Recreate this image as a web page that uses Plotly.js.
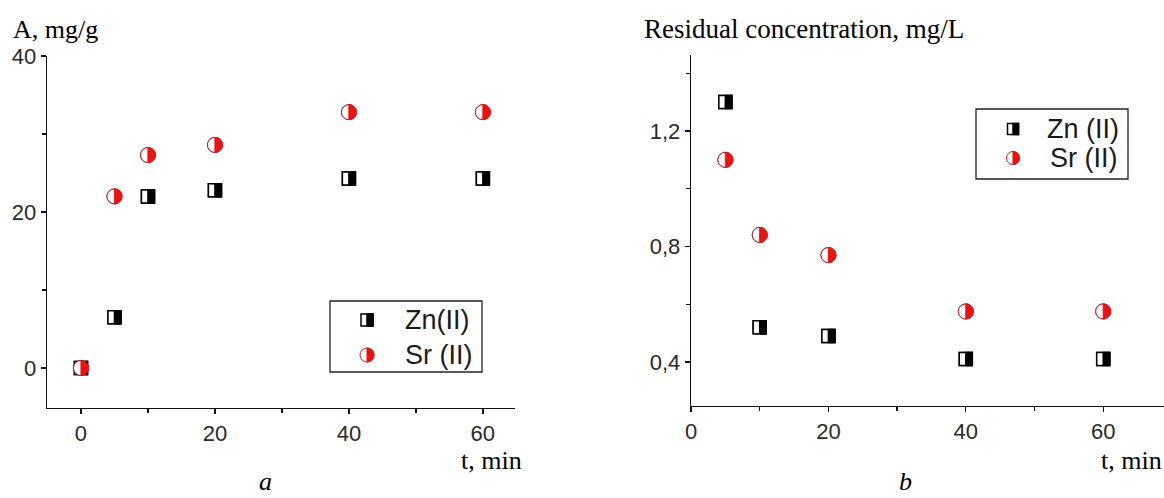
<!DOCTYPE html>
<html><head><meta charset="utf-8">
<script src="https://cdn.plot.ly/plotly-3.0.1.min.js"></script>
<style>html,body{margin:0;padding:0;background:#fff;}#chart{width:1164px;height:498px;}</style>
</head><body><div id="chart"></div>
<script>
// ---- data ----
const timeA = [0, 5, 10, 20, 40, 60];
const znA = [0, 6.5, 22.0, 22.8, 24.3, 24.3];
const srA = [0, 22.0, 27.3, 28.6, 32.8, 32.8];
const timeB = [5, 10, 20, 40, 60];
const znB = [1.30, 0.52, 0.49, 0.41, 0.41];
const srB = [1.10, 0.84, 0.77, 0.575, 0.575];
const seriesNames = ['Zn(II)', 'Sr (II)'];
const seriesNamesB = ['Zn (II)', 'Sr (II)'];

const W = 1164, H = 498;
const fx = x => x / W, fy = y => 1 - y / H;
const RED = '#ee1111', REDLINE = '#b02020';
const tickFont = {family: 'Liberation Sans, Arial, sans-serif', size: 22, color: '#2a2a2a'};
const serif = {family: 'Liberation Serif, Times New Roman, serif', size: 26, color: '#000'};

function axisBase(extra) {
  return Object.assign({
    showline: true, linecolor: '#111', linewidth: 1.3, mirror: false,
    ticks: 'outside', ticklen: 5, tickwidth: 1.3, tickcolor: '#111',
    showgrid: false, zeroline: false, tickfont: tickFont, fixedrange: true
  }, extra);
}

const traces = [
  {x: timeA, y: znA, xaxis: 'x', yaxis: 'y', mode: 'markers', name: seriesNames[0], showlegend: false,
   marker: {symbol: 'square', size: 13, color: '#fff', line: {color: '#000', width: 1.5}}},
  {x: timeA, y: srA, xaxis: 'x', yaxis: 'y', mode: 'markers', name: seriesNames[1], showlegend: false,
   marker: {symbol: 'circle', size: 15, color: '#fff', line: {color: REDLINE, width: 1}}},
  {x: timeB, y: znB, xaxis: 'x2', yaxis: 'y2', mode: 'markers', name: seriesNamesB[0], showlegend: false,
   marker: {symbol: 'square', size: 13, color: '#fff', line: {color: '#000', width: 1.5}}},
  {x: timeB, y: srB, xaxis: 'x2', yaxis: 'y2', mode: 'markers', name: seriesNamesB[1], showlegend: false,
   marker: {symbol: 'circle', size: 15, color: '#fff', line: {color: REDLINE, width: 1}}}
];

// half-filled marker shapes anchored on data values (pixel-sized)
function sqShapes(xref, yref, xa, ya, s) {
  const h = s / 2;
  return [
    {type: 'rect', xref, yref, xsizemode: 'pixel', ysizemode: 'pixel', xanchor: xa, yanchor: ya,
     x0: -h, x1: h, y0: -h, y1: h, fillcolor: '#fff', line: {color: '#000', width: 1.5}, layer: 'above'},
    {type: 'rect', xref, yref, xsizemode: 'pixel', ysizemode: 'pixel', xanchor: xa, yanchor: ya,
     x0: 0, x1: h, y0: -h, y1: h, fillcolor: '#000', line: {color: '#000', width: 1.5}, layer: 'above'}
  ];
}
function halfDiskPath(r) {
  let p = '';
  for (let k = 0; k <= 16; k++) {
    const a = -Math.PI / 2 + Math.PI * k / 16;
    p += (k === 0 ? 'M' : 'L') + (r * Math.cos(a)).toFixed(2) + ',' + (r * Math.sin(a)).toFixed(2) + ' ';
  }
  return p + 'Z';
}
function ciShapes(xref, yref, xa, ya, d) {
  const r = d / 2;
  return [
    {type: 'circle', xref, yref, xsizemode: 'pixel', ysizemode: 'pixel', xanchor: xa, yanchor: ya,
     x0: -r, x1: r, y0: -r, y1: r, fillcolor: '#fff', line: {color: REDLINE, width: 1}, layer: 'above'},
    {type: 'path', xref, yref, xsizemode: 'pixel', ysizemode: 'pixel', xanchor: xa, yanchor: ya,
     path: halfDiskPath(r), fillcolor: RED, line: {color: RED, width: 1}, layer: 'above'}
  ];
}

let shapes = [];
timeA.forEach((t, i) => { shapes = shapes.concat(sqShapes('x', 'y', t, znA[i], 13)); });
timeA.forEach((t, i) => { shapes = shapes.concat(ciShapes('x', 'y', t, srA[i], 15)); });
timeB.forEach((t, i) => { shapes = shapes.concat(sqShapes('x2', 'y2', t, znB[i], 13)); });
timeB.forEach((t, i) => { shapes = shapes.concat(ciShapes('x2', 'y2', t, srB[i], 15)); });

// legend boxes (paper coords)
function legendBox(x0, y0, x1, y1) {
  return {type: 'rect', xref: 'paper', yref: 'paper', x0: fx(x0), x1: fx(x1), y0: fy(y1), y1: fy(y0),
          fillcolor: 'rgba(0,0,0,0)', line: {color: '#222', width: 1.3}, layer: 'above'};
}
shapes.push(legendBox(330, 301, 482, 372));
shapes.push(legendBox(976, 109, 1128, 179));
shapes = shapes.concat(sqShapes('paper', 'paper', fx(367), fy(320), 12));
shapes = shapes.concat(ciShapes('paper', 'paper', fx(367), fy(355), 14));
shapes = shapes.concat(sqShapes('paper', 'paper', fx(1013), fy(129), 11));
shapes = shapes.concat(ciShapes('paper', 'paper', fx(1013), fy(158), 13));

const legFont = {family: 'Liberation Sans, Arial, sans-serif', size: 27, color: '#1a1a1a'};
function ann(text, x, y, font, xanchor, yanchor) {
  return {text, xref: 'paper', yref: 'paper', x: fx(x), y: fy(y), xanchor: xanchor || 'left',
          yanchor: yanchor || 'middle', showarrow: false, font};
}
const annotations = [
  ann('A, mg/g', 11, 29, serif),
  ann('Residual concentration, mg/L', 642, 29, Object.assign({}, serif, {size: 27})),
  ann('t, min', 459, 460, serif),
  ann('t, min', 1164, 460, serif, 'right'),
  ann('<i>a</i>', 265, 498, serif, 'center', 'bottom'),
  ann('<i>b</i>', 905, 498, serif, 'center', 'bottom'),
  ann(seriesNames[0], 403, 320, legFont),
  ann(seriesNames[1], 403, 355, legFont),
  ann(seriesNamesB[0], 1045, 129, legFont),
  ann(seriesNamesB[1], 1048, 158, legFont)
];

const layout = {
  width: W, height: H, margin: {l: 0, r: 0, t: 0, b: 0}, paper_bgcolor: '#fff', plot_bgcolor: '#fff',
  separators: ', ', showlegend: false,
  xaxis: axisBase({domain: [fx(47), fx(515)], range: [-5.07, 64.8], anchor: 'y', tickvals: [0, 20, 40, 60],
    minor: {tickvals: [10, 30, 50], ticks: 'outside', ticklen: 4, tickwidth: 1.3, tickcolor: '#111'}}),
  yaxis: axisBase({domain: [fy(408), fy(56)], range: [-5.13, 40], anchor: 'x', tickvals: [0, 20, 40],
    minor: {tickvals: [10, 30], ticks: 'outside', ticklen: 4, tickwidth: 1.3, tickcolor: '#111'}}),
  xaxis2: axisBase({domain: [fx(691), 1], range: [0, 68.85], anchor: 'y2', tickvals: [0, 20, 40, 60],
    minor: {tickvals: [10, 30, 50], ticks: 'outside', ticklen: 4, tickwidth: 1.3, tickcolor: '#111'}}),
  yaxis2: axisBase({domain: [fy(406), fy(55)], range: [0.2476, 1.463], anchor: 'x2', tickvals: [0.4, 0.8, 1.2],
    tickformat: '.1f',
    minor: {tickvals: [0.6, 1.0, 1.4], ticks: 'outside', ticklen: 4, tickwidth: 1.3, tickcolor: '#111'}}),
  shapes, annotations
};

Plotly.newPlot('chart', traces, layout, {staticPlot: true, displayModeBar: false});
</script>
</body></html>
